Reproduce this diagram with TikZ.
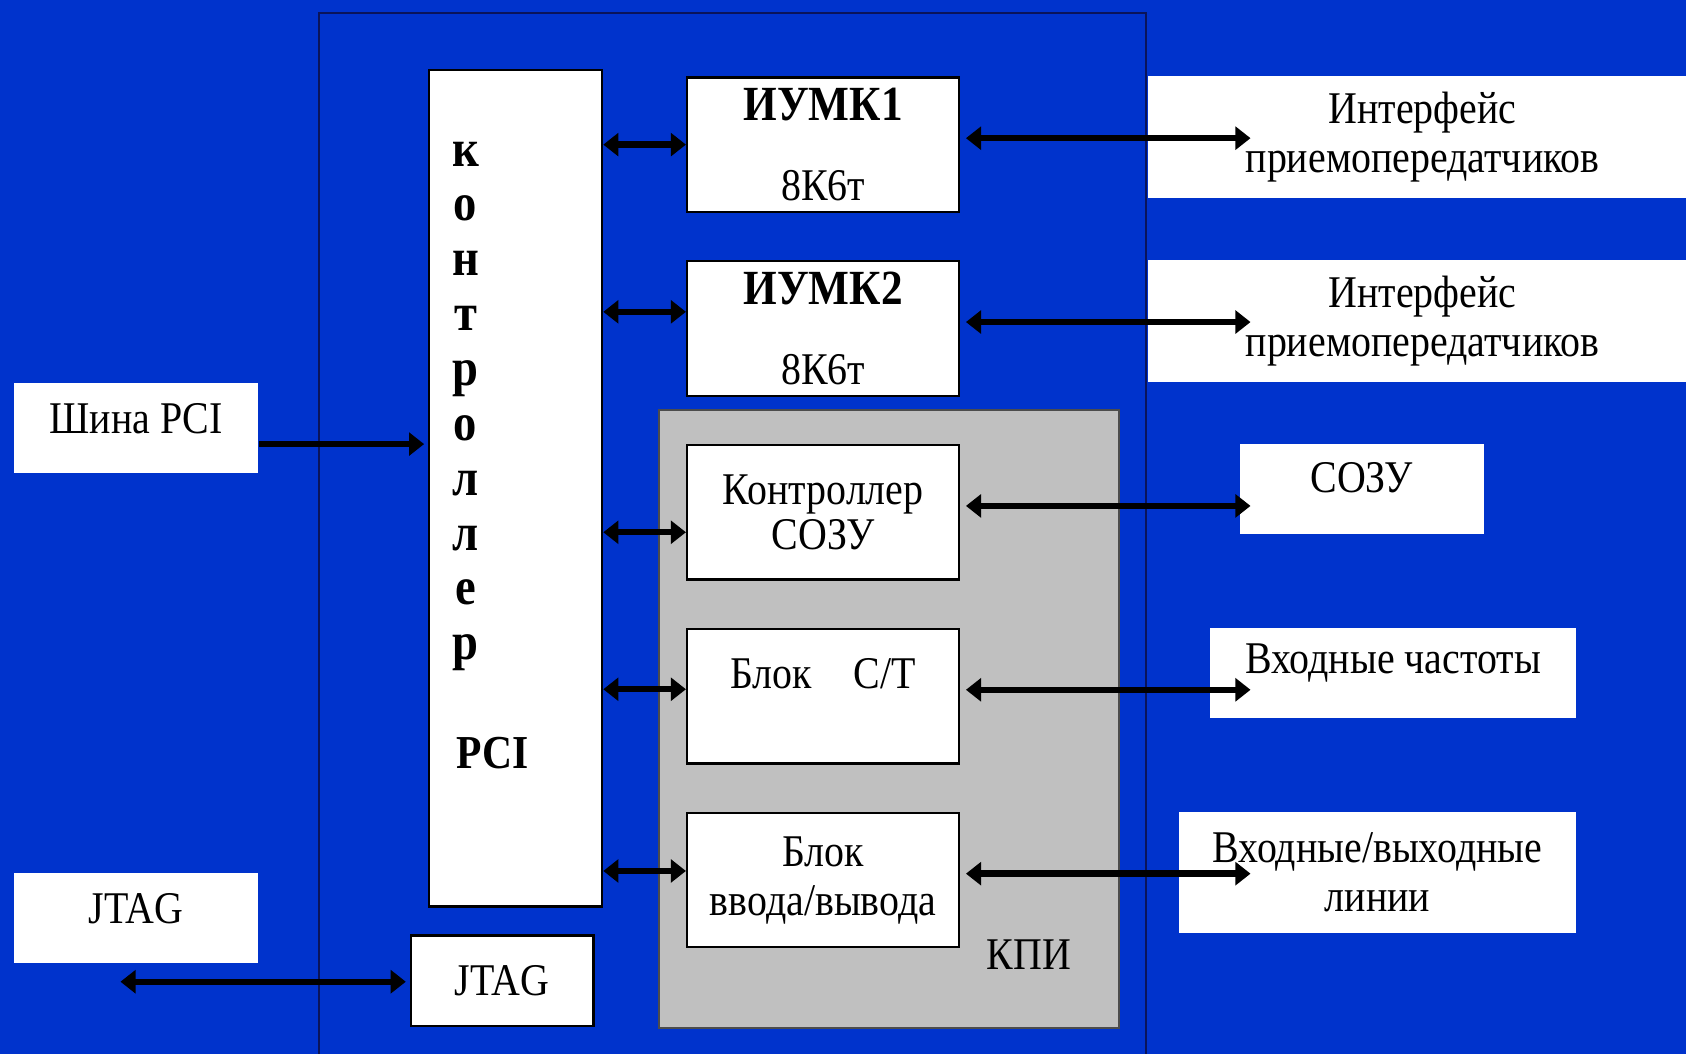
\documentclass[tikz,border=0pt]{standalone}
\usepackage{fontspec}
\setmainfont{Liberation Serif}[FakeStretch=0.88]
\usetikzlibrary{arrows.meta}
\definecolor{slideblue}{RGB}{0,51,204}
\definecolor{framenavy}{RGB}{10,20,90}
\definecolor{kpigray}{RGB}{192,192,192}

\begin{document}
\begin{tikzpicture}[
  font=\fontsize{12}{13}\selectfont,
  plain/.style={fill=white, inner sep=0pt, align=center},
  block/.style={fill=white, draw=black, line width=0.6pt, inner sep=0pt, align=center,
    minimum width=2.53cm, minimum height=1.25cm},
  biarrow/.style={line width=1.7pt, {Triangle[length=4pt,width=6pt]}-{Triangle[length=4pt,width=6pt]}},
  onearrow/.style={line width=1.7pt, -{Triangle[length=4pt,width=6pt]}},
  vlet/.style={font=\fontsize{14}{14}\selectfont\bfseries, anchor=base}
]

% Background
\useasboundingbox (0,0) rectangle (15.68,9.80);
\clip (0,0) rectangle (15.68,9.80);
\fill[slideblue] (0,0) rectangle (15.68,9.80);

% Board frame
\draw[framenavy, line width=0.5pt] (2.97,-0.2) rectangle (10.66,9.68);

% Outside blocks
\node[plain, minimum width=2.27cm, minimum height=0.84cm,
  label={[name=pcibustext, yshift=0.9mm]center:Шина PCI}] (pcibus) at (1.265,5.82) {};
\node[plain, minimum width=2.27cm, minimum height=0.84cm,
  label={[name=jtagouttext, yshift=0.9mm]center:JTAG}] (jtagout) at (1.265,1.26) {};
\node[plain, minimum width=5.10cm, minimum height=1.13cm] (xcvr1) at (13.23,8.525) {Интерфейс\\приемопередатчиков};
\node[plain, minimum width=5.10cm, minimum height=1.13cm] (xcvr2) at (13.23,6.815) {Интерфейс\\приемопередатчиков};
\node[plain, minimum width=2.27cm, minimum height=0.84cm,
  label={[name=sozutext, yshift=1.1mm]center:СОЗУ}] (sozu) at (12.665,5.25) {};
\node[plain, minimum width=3.41cm, minimum height=0.84cm,
  label={[name=freqtext, yshift=0.9mm]center:Входные частоты}] (freq) at (12.955,3.54) {};
\node[plain, minimum width=3.70cm, minimum height=1.13cm] (iolines) at (12.81,1.685) {Входные/выходные\\линии};

% KPI area
\node[fill=kpigray, draw=black!70, line width=0.5pt, inner sep=0pt,
  minimum width=4.28cm, minimum height=5.75cm] (kpi) at (8.27,3.115) {};
\node (kpilabel) at (9.57,0.92) {КПИ};

% PCI controller
\node[block, minimum width=1.61cm, minimum height=7.78cm] (ctrl) at (4.795,5.26) {};
\foreach \ch [count=\i from 0] in {к,о,н,т,р,о,л,л,е,р}
  \node[vlet] (let\i) at (4.33,{8.255-0.51*\i}) {\ch};
\node[vlet, font=\fontsize{12.5}{13}\selectfont\bfseries] (ctrlpci) at (4.58,2.655) {PCI};

% Blocks
\node[block] (iumk1) at (7.655,8.455) {{\bfseries\fontsize{13}{13}\selectfont ИУМК1}\\[8pt]8К6т};
\node[block] (iumk2) at (7.655,6.745) {{\bfseries\fontsize{13}{13}\selectfont ИУМК2}\\[8pt]8К6т};
\node[block] (ctrlsozu) at (7.655,5.035) {Контроллер\\[-1pt]СОЗУ};
\node[block, label={[name=blockcttext, yshift=2.1mm]center:Блок\hspace{0.39cm}С/Т}] (blockct) at (7.655,3.325) {};
\node[block] (blockio) at (7.655,1.615) {Блок\\ввода/вывода};
\node[block, minimum width=1.70cm, minimum height=0.84cm] (jtagin) at (4.67,0.68) {JTAG};

% Links to controller
\foreach \b/\dy in {iumk1/0, iumk2/1.55, ctrlsozu/-1.85, blockct/0.65, blockio/0.85}
  \draw[biarrow] ([yshift=\dy mm]\b.west -| ctrl.east) -- ([yshift=\dy mm]\b.west);

% Links to outside
\coordinate (tipx) at (11.63,0);
\foreach \b in {iumk1,iumk2,ctrlsozu,blockct,blockio}
  \draw[biarrow, shorten <=1.5pt] ([yshift=0.6mm]\b.east) -- ([yshift=0.6mm]\b.east -| tipx);

\draw[onearrow, shorten >=1pt] ([yshift=-1.5mm]pcibus.east) -- ([yshift=-1.5mm]pcibus.east -| ctrl.west);

\coordinate (jtagend) at (1.12,0.67);
\draw[biarrow, shorten >=1pt] (jtagend) -- (jtagend -| jtagin.west);

\end{tikzpicture}
\end{document}
